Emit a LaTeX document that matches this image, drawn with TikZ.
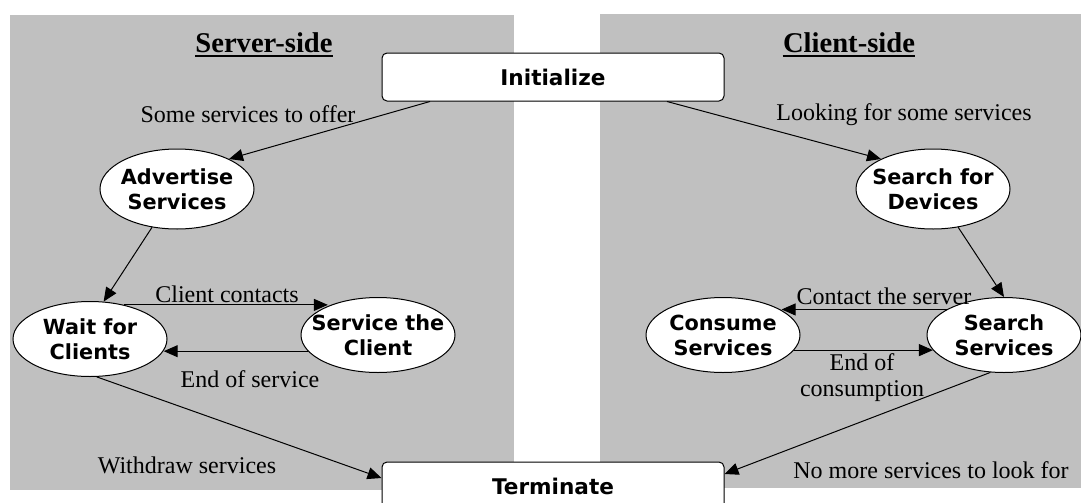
\documentclass[tikz,border=0pt]{standalone}
\usepackage{fontspec}
\setmainfont{Liberation Serif}
\newfontfamily\statefont{DejaVu Sans}
\usepackage{xcolor}
\usepackage{tikz}
\usetikzlibrary{positioning, arrows.meta, shapes.geometric}
\definecolor{panelgray}{RGB}{192,192,192}

\begin{document}
\begin{tikzpicture}[
    x=0.5pt, y=-0.5pt,
    st/.style={ellipse, draw, fill=white, line width=0.5pt, inner xsep=-6pt, inner ysep=0pt, minimum width=77pt, minimum height=37.5pt, font=\statefont\bfseries\fontsize{10.4}{12.5}\selectfont, align=center},
    bx/.style={rectangle, draw, fill=white, rounded corners=2.5pt, line width=0.5pt, minimum width=171pt, minimum height=24pt, font=\statefont\bfseries\fontsize{10.8}{13}\selectfont},
    lbl/.style={font=\fontsize{12}{13}\selectfont, inner sep=0pt, align=center},
    ttl/.style={font=\bfseries\fontsize{14.3}{16}\selectfont, inner sep=0pt, anchor=base},
    ul/.style={line width=0.9pt},
    arr/.style={-{Triangle[length=7pt, width=6pt]}, line width=0.5pt},
]
    \useasboundingbox (0,0) rectangle (1081,503);
    \fill[panelgray] (10,15) rectangle (514,490);
    \fill[panelgray] (600,14) rectangle (1081,488);

    \node[ttl] (srv) at (264,52) {Server-side};
    \node[ttl] (cli) at (849,52) {Client-side};
    \draw[ul] ([yshift=-2pt]srv.base west) -- ([yshift=-2pt]srv.base east);
    \draw[ul] ([yshift=-2pt]cli.base west) -- ([yshift=-2pt]cli.base east);

    \node[bx] (init) at (553,77) {Initialize};
    \node[bx] (term) at (553,486) {Terminate};

    \node[st, minimum height=40pt] (adv) at (177,189) {Advertise\\Services};
    \node[st] (wait) at (90,339) {Wait for\\Clients};
    \node[st] (svc) at (378,335) {Service the\\Client};

    \node[st, minimum height=40pt] (sfd) at (933,189) {Search for\\Devices};
    \node[st] (con) at (723,335) {Consume\\Services};
    \node[st] (ss) at (1004,335) {Search\\Services};

    \node[lbl] (loffer) at (248,114) {Some services to offer};
    \node[lbl] (llook) at (904,115) {Looking for some services};
    \node[lbl] (lcc) at (227,294) {Client contacts};
    \node[lbl] (leos) at (250,379) {End of service};
    \node[lbl] (lwd) at (187,465) {Withdraw services};
    \node[lbl] (lcts) at (884,296) {Contact the server};
    \node[lbl] (leoc) at (862,378) {End of\\consumption};
    \node[lbl] (lnm) at (931,470) {No more services to look for};

    \draw[arr] ([xshift=-61.5pt]init.south) -- (adv.30);
    \draw[arr] ([xshift=57pt]init.south) -- (sfd.150);
    \draw[arr] (adv) -- (wait.70);
    \draw[arr] (sfd) -- (ss.north);
    \draw[arr] (wait.45) -- (wait.45 -| svc.150);
    \draw[arr] (svc.193) -- (svc.193 -| wait.-9);
    \draw[arr] (ss.156) -- (ss.156 -| con.23);
    \draw[arr] (con.-12) -- (con.-12 -| ss.192);
    \draw[arr] (wait.-80) -- ([yshift=4pt]term.west);
    \draw[arr] (ss.-110) -- ([yshift=6pt]term.east);
\end{tikzpicture}
\end{document}
